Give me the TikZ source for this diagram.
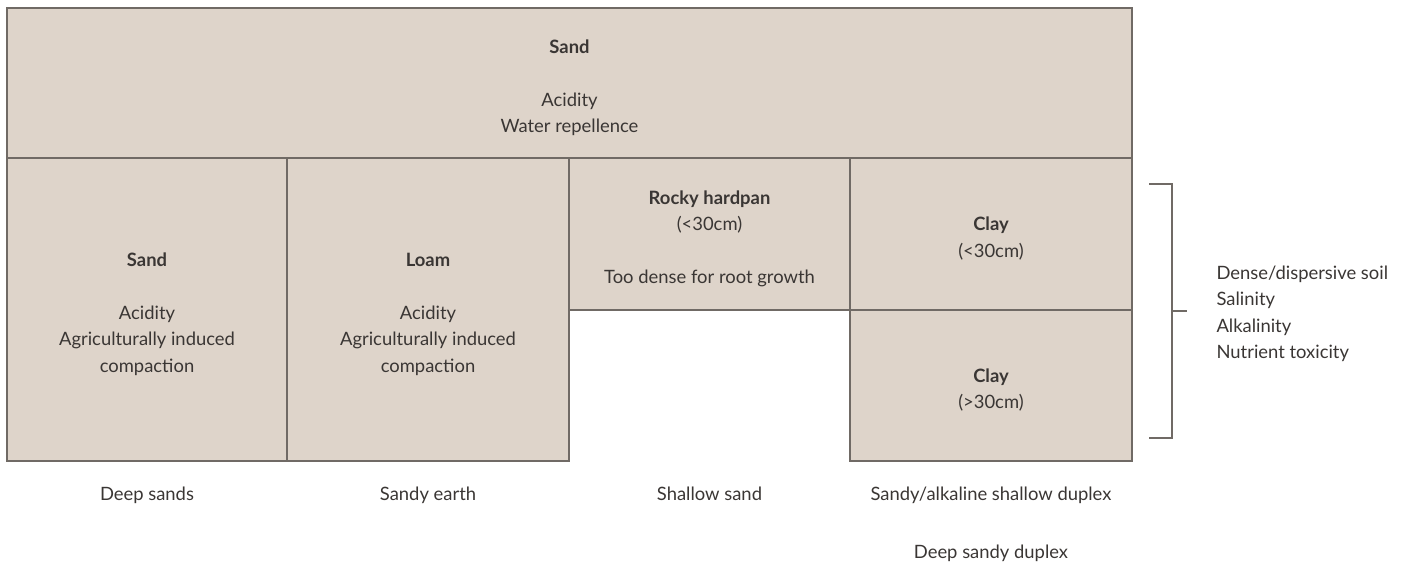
\documentclass[tikz,border=0pt]{standalone}
\usepackage{fontspec}
\setmainfont{Lato}
\usepackage{tikz}

\definecolor{soil}{RGB}{222,212,202}
\definecolor{edge}{RGB}{112,106,101}
\definecolor{ink}{RGB}{58,54,52}

\newcommand{\soilstrut}{\rule{0pt}{23pt}}

\tikzset{
  layer/.style={draw=edge, line width=1.3pt, fill=soil, inner sep=0pt, outer sep=0pt,
    align=center, text=ink, font=\fontsize{18.4}{26.5}\selectfont},
  caption/.style={text=ink, align=center, anchor=base, font=\fontsize{18.4}{26.5}\selectfont}
}

\begin{document}
\begin{tikzpicture}[x=1pt, y=-1pt]
\useasboundingbox (0,0) rectangle (1405,568);
\node[layer, minimum width=1125pt, minimum height=150pt] (S) at (569.5,83) {\soilstrut\textbf{Sand}\\[26.5pt] Acidity\\ Water repellence};
\node[layer, minimum width=280pt, minimum height=303pt] (S1) at (147,309.5) {\soilstrut\textbf{Sand}\\[26.5pt] Acidity\\ Agriculturally induced\\ compaction};
\node[layer, minimum width=282pt, minimum height=303pt] (L) at (428,309.5) {\soilstrut\textbf{Loam}\\[26.5pt] Acidity\\ Agriculturally induced\\ compaction};
\node[layer, minimum width=281pt, minimum height=152pt] (R) at (709.5,234) {\soilstrut\textbf{Rocky hardpan}\\ (<30cm)\\[26.5pt] Too dense for root growth};
\node[layer, minimum width=282pt, minimum height=152pt] (C1) at (991,234) {\soilstrut\textbf{Clay}\\ (<30cm)};
\node[layer, minimum width=282pt, minimum height=151pt] (C2) at (991,385.5) {\soilstrut\textbf{Clay}\\ (>30cm)};
\node[caption] (D1) at (147,500) {Deep sands};
\node[caption] (D2) at (428,500) {Sandy earth};
\node[caption] (D3) at (709.5,500) {Shallow sand};
\node[caption] (D4) at (991,500) {Sandy/alkaline shallow duplex};
\node[caption] (D5) at (991,558) {Deep sandy duplex};
\node[caption, align=left, anchor=west] (T) at (1213,314) {Dense/dispersive soil\\ Salinity\\ Alkalinity\\ Nutrient toxicity};
% bracket
\coordinate (B1) at (1149,184);
\coordinate (B2) at (1172,184);
\coordinate (B3) at (1172,438);
\coordinate (B4) at (1149,438);
\coordinate (B5) at (1172,311);
\coordinate (B6) at (1187,311);
\draw[edge, line width=1.2pt] (B1) -- (B2) -- (B3) -- (B4);
\draw[edge, line width=1.2pt] (B5) -- (B6);
\end{tikzpicture}
\end{document}
